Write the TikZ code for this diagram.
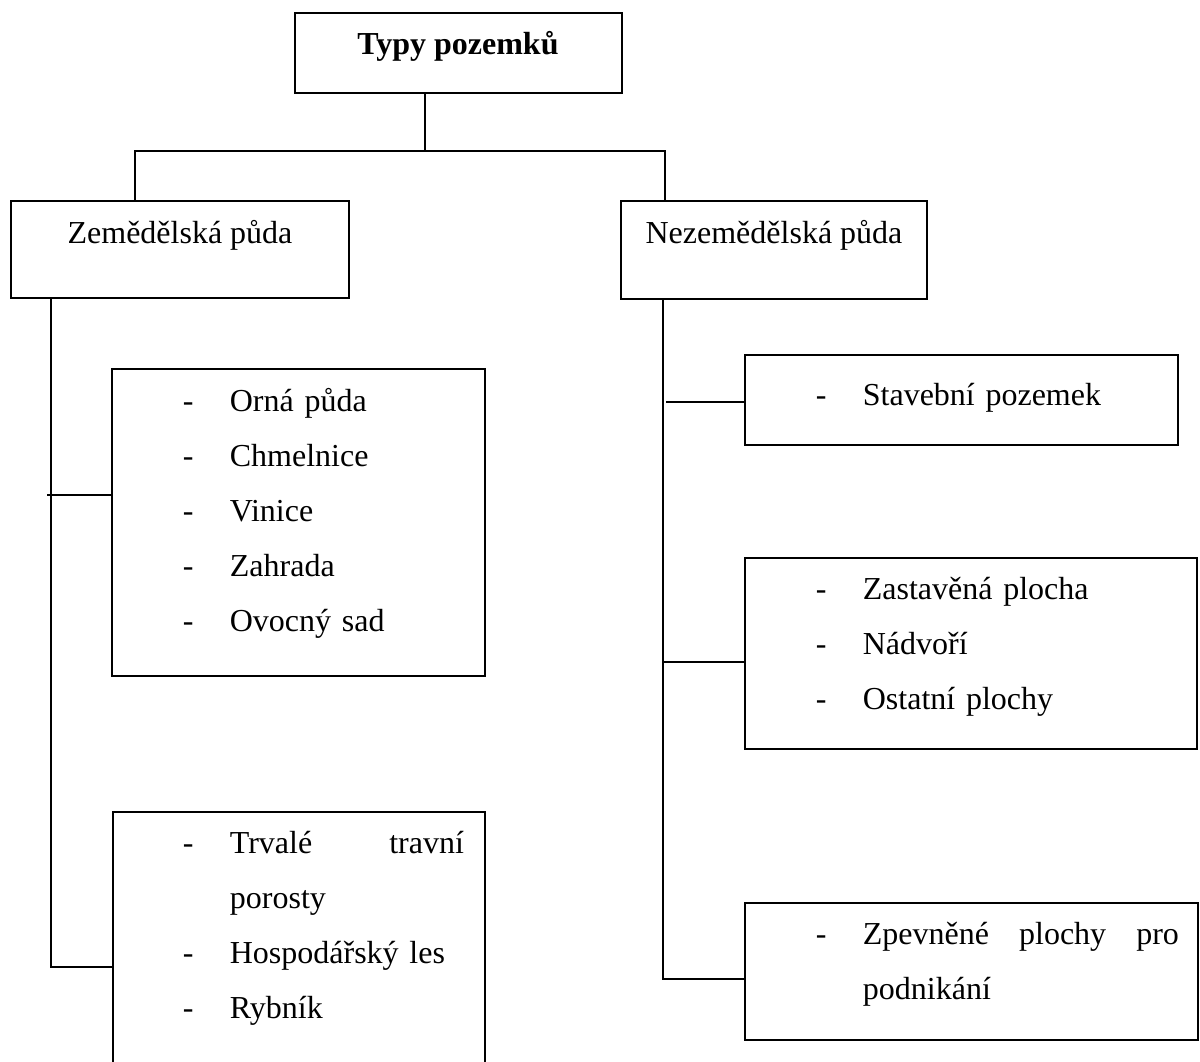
\documentclass[tikz,border=0pt]{standalone}
\usepackage{fontspec}
\setmainfont{Liberation Serif}
\newcommand{\dashitem}[1]{\makebox[47pt][l]{-}#1}
\begin{document}
\begin{tikzpicture}[x=1pt, y=-1pt, line width=1.8pt,
  box/.style={draw, rectangle, anchor=north west, inner sep=0pt, outer sep=0pt},
  heading/.style={anchor=base, inner sep=0pt, font=\fontsize{32}{55}\selectfont},
  items/.style={anchor=base west, inner sep=0pt, align=left, font=\fontsize{32}{55}\selectfont}]
\useasboundingbox (0,0) rectangle (1200,1061);
\clip (0,0) rectangle (1200,1061);
\node[box, minimum width=327pt, minimum height=80pt] (title) at (295,13) {};
\node[heading, font=\fontsize{32}{55}\selectfont\bfseries] (titletext) at (458,54) {Typy pozemků};
\node[box, minimum width=338pt, minimum height=97pt] (agri) at (11,201) {};
\node[heading] (agritext) at (180,243) {Zemědělská půda};
\node[box, minimum width=306pt, minimum height=98pt] (nonagri) at (621,201) {};
\node[heading] (nonagritext) at (774,243) {Nezemědělská půda};
\node[box, minimum width=373pt, minimum height=307pt] (arable) at (112,369) {};
\node[items, text width=281pt] (arabletext) at (182,411) {\dashitem{Orná půda}\\\dashitem{Chmelnice}\\\dashitem{Vinice}\\\dashitem{Zahrada}\\\dashitem{Ovocný sad}};
\node[box, minimum width=372pt, minimum height=300pt] (perm) at (113,812) {};
\node[items, text width=281pt] (permtext) at (182,853) {\dashitem{Trvalé\hfill travní}\\\hspace*{47pt}porosty\\\dashitem{Hospodářský les}\\\dashitem{Rybník}};
\node[box, minimum width=433pt, minimum height=90pt] (building) at (745,355) {};
\node[items, text width=363pt] (buildingtext) at (815,405) {\dashitem{Stavební pozemek}};
\node[box, minimum width=452pt, minimum height=191pt] (builtup) at (745,558) {};
\node[items, text width=363pt] (builtuptext) at (815,599) {\dashitem{Zastavěná plocha}\\\dashitem{Nádvoří}\\\dashitem{Ostatní plochy}};
\node[box, minimum width=453pt, minimum height=137pt] (paved) at (745,903) {};
\node[items, text width=363pt] (pavedtext) at (815,944) {\dashitem{Zpevněné\hfill plochy\hfill pro}\\\hspace*{47pt}podnikání};
\coordinate (leftspine) at ([xshift=40pt]agri.south west);
\coordinate (rightspine) at ([xshift=42pt]nonagri.south west);
\draw ([xshift=130pt]title.south west) -- ++(0,58);
\draw ([xshift=124pt]agri.north west) -- ++(0,-50) -| ([xshift=44pt]nonagri.north west);
\draw (leftspine) |- ([yshift=-155pt]perm.north west);
\draw ([yshift=-126pt]arable.north west) -- ++(-65,0);
\draw (rightspine) |- ([yshift=-76pt]paved.north west);
\draw ([yshift=-47pt]building.north west) -- ++(-79,0);
\draw ([yshift=-104pt]builtup.north west) -- ++(-82,0);
\end{tikzpicture}
\end{document}
